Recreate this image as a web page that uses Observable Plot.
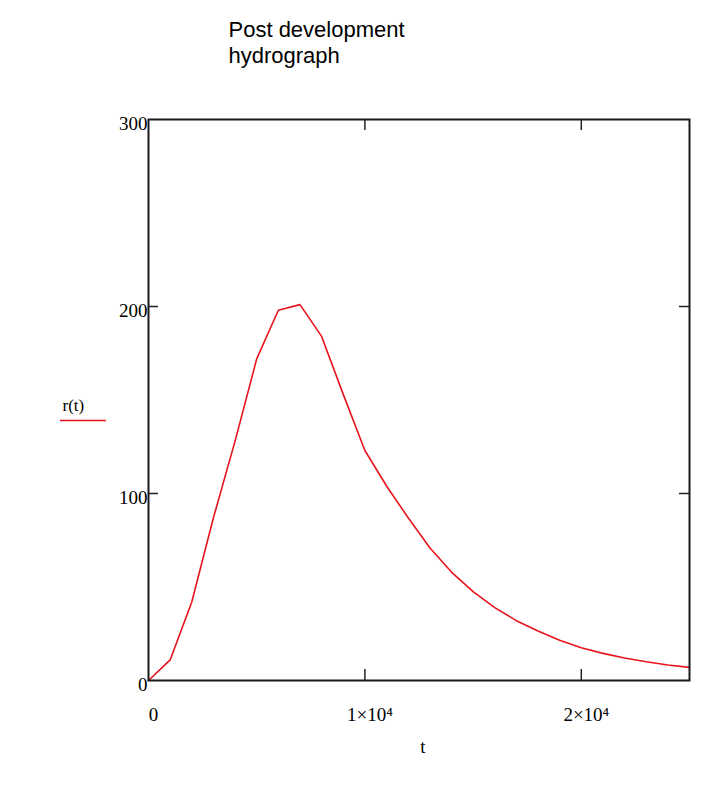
<!DOCTYPE html>
<html>
<head>
<meta charset="utf-8">
<script src="https://cdn.jsdelivr.net/npm/d3@7"></script>
<script src="https://cdn.jsdelivr.net/npm/@observablehq/plot@0.6"></script>
<style>
  html, body { margin: 0; padding: 0; background: white; }
</style>
</head>
<body>
<div id="chart"></div>
<script>
// Time (s) and post-development runoff r(t)
const tValues = [0, 1000, 2000, 3000, 4000, 5000, 6000, 7000, 8000, 9000, 10000, 11000, 12000,
                 13000, 14000, 15000, 16000, 17000, 18000, 19000, 20000, 21000, 22000, 23000, 24000, 25000];
const rValues = [0, 11, 42, 87, 128, 172, 198, 201, 184, 153, 123, 104, 87,
                 71, 58, 47.5, 39, 32, 26.5, 21.5, 17.5, 14.5, 12, 10, 8.3, 7];
const yTicks = [0, 100, 200, 300];
const xTicks = [0, 10000, 20000];
const xTickLabels = ["0", "1×10⁴", "2×10⁴"];
const innerTicksX = [10000, 20000];
const innerTicksY = [100, 200];
const titleText = "Post development\nhydrograph";
const legendLabel = "r(t)";
const xLabel = "t";

const data = tValues.map((t, i) => ({t, r: rValues[i]}));

const W = 726, H = 785;
const mL = 148, mR = 37, mT = 119, mB = 105;
const frameW = W - mL - mR, frameH = H - mT - mB;

const plot = Plot.plot({
  width: W,
  height: H,
  marginLeft: mL,
  marginRight: mR,
  marginTop: mT,
  marginBottom: mB,
  style: {fontFamily: "'Liberation Serif', 'Times New Roman', serif", fontSize: "19px", background: "white", color: "black"},
  x: {domain: [0, 25000]},
  y: {domain: [0, 300]},
  marks: [
    Plot.axisY(yTicks, {tickSize: 0, tickPadding: 1, dy: 4, fontSize: 19, tickFormat: d => String(d), label: null}),
    Plot.axisX(xTicks, {tickSize: 0, tickPadding: 27, fontSize: 19, dx: 5, tickFormat: d => xTickLabels[xTicks.indexOf(d)], label: null}),
    Plot.tickY(innerTicksY, {stroke: "#222", strokeWidth: 1.5, insetRight: frameW - 10}),
    Plot.tickY(innerTicksY, {stroke: "#222", strokeWidth: 1.5, insetLeft: frameW - 10}),
    Plot.tickX(innerTicksX, {stroke: "#222", strokeWidth: 1.5, insetBottom: frameH - 11}),
    Plot.tickX(innerTicksX, {stroke: "#222", strokeWidth: 1.5, insetTop: frameH - 11}),
    Plot.line(data, {x: "t", y: "r", stroke: "#e8141c", strokeWidth: 1.6}),
    Plot.frame({stroke: "#1a1a1a", strokeWidth: 2}),
    Plot.text([xLabel], {frameAnchor: "bottom", text: d => d, dx: 4, dy: 72, fontSize: 19}),
    Plot.text([legendLabel], {frameAnchor: "left", text: d => d, textAnchor: "start", dx: -86, dy: 6, fontSize: 17}),
    Plot.text([titleText], {
      frameAnchor: "top-left", text: d => d, textAnchor: "start", lineAnchor: "top",
      dx: 80, dy: -102, fontSize: 22, lineHeight: 1.22,
      fontFamily: "'Liberation Sans', Arial, sans-serif", letterSpacing: "-0.7px"
    })
  ]
});

// legend line sample under "r(t)"
const svg = d3.select(plot);
svg.append("line")
  .attr("x1", mL - 88).attr("x2", mL - 42)
  .attr("y1", mT + frameH / 2 + 21).attr("y2", mT + frameH / 2 + 21)
  .attr("stroke", "#e8141c").attr("stroke-width", 1.6);

document.getElementById("chart").appendChild(plot);
</script>
</body>
</html>
